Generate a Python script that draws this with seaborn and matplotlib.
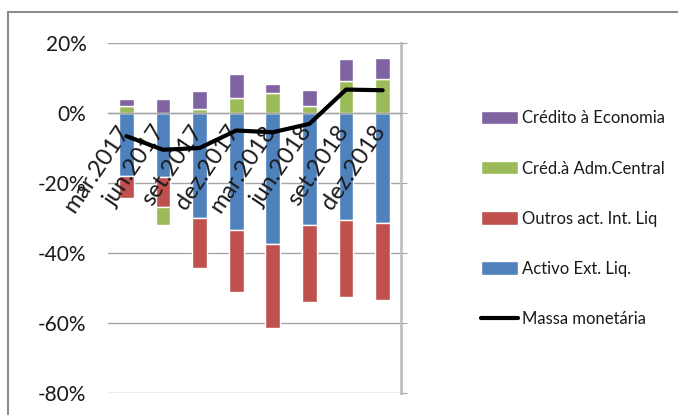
import numpy as np
import seaborn as sns
import matplotlib.pyplot as plt
import matplotlib.transforms as mtransforms
from matplotlib.lines import Line2D

# ----------------------------
# Data (percent)
# ----------------------------
periods = ["mar.2017", "jun.2017", "set.2017", "dez.2017",
           "mar.2018", "jun.2018", "set.2018", "dez.2018"]
activo_ext = [-18.0, -18.2, -30.0, -33.5, -37.3, -32.0, -30.7, -31.5]
outros_act = [-6.4, -8.7, -14.3, -17.7, -24.0, -21.9, -22.0, -22.0]
cred_adm = [2.0, -5.0, 1.0, 4.4, 5.6, 2.1, 9.0, 9.8]
cred_econ = [2.0, 4.0, 5.3, 6.7, 2.7, 4.6, 6.3, 5.8]
massa = [-6.6, -10.5, -10.0, -5.0, -5.5, -3.1, 6.7, 6.5]

series = [
    ("Activo Ext. Liq.", activo_ext, "#4F81BD"),
    ("Outros act. Int. Liq", outros_act, "#C0504D"),
    ("Créd.à Adm.Central", cred_adm, "#9BBB59"),
    ("Crédito à Economia", cred_econ, "#8064A2"),
]

sns.set_style("white")
plt.rcParams["font.family"] = ["Lato", "DejaVu Sans"]
plt.rcParams["text.color"] = "#1a1a1a"

fig = plt.figure(figsize=(6.78, 4.15), dpi=100)
ax = fig.add_axes([108 / 678, 1 - 393 / 415, 293 / 678, 350 / 415])

# gridlines behind the bars, tick labels stay on top
yt = np.arange(-0.8, 0.21, 0.2)
for t in yt:
    ax.axhline(t, color="#a6a6a6", linewidth=1, zorder=0)

# stacked bars, positives and negatives stacked separately
pos_base = np.zeros(len(periods))
neg_base = np.zeros(len(periods))
for name, vals, col in series:
    v = np.array(vals) / 100
    bottom = np.where(v >= 0, pos_base, neg_base)
    sns.barplot(x=periods, y=v, bottom=bottom, color=col, width=0.4,
                label=name, ax=ax, saturation=1, zorder=1)
    pos_base = pos_base + np.where(v >= 0, v, 0)
    neg_base = neg_base + np.where(v < 0, v, 0)

sns.lineplot(x=np.arange(len(periods)), y=np.array(massa) / 100,
             color="black", linewidth=3, label="Massa monetária", ax=ax,
             zorder=3)

# ----------------------------
# Axes styling
# ----------------------------
ax.set_ylim(-0.8, 0.2)
ax.set_xlim(-0.5, 7.5)
ax.set_yticks(yt)
ax.set_yticklabels([f"{int(round(t * 100))}%" for t in yt], fontsize=15)
ax.grid(False)
ax.set_axisbelow(False)
ax.tick_params(axis="y", left=False, right=True, direction="out", length=4.5,
               color="#a6a6a6", pad=11, labelcolor="#1a1a1a")

for s in ["top", "left"]:
    ax.spines[s].set_visible(False)
ax.spines["right"].set_color("#c0c0c0")
ax.spines["right"].set_linewidth(2)
ax.spines["bottom"].set_position(("data", 0))
ax.spines["bottom"].set_color("#a6a6a6")
ax.spines["bottom"].set_linewidth(1)

ax.set_xticks(range(len(periods)))
ax.set_xticklabels(periods, rotation=56, ha="right", va="top",
                   fontsize=17)
ax.tick_params(axis="x", which="major", length=0, pad=6, labelcolor="#1a1a1a")
shift = mtransforms.ScaledTranslation(7 / 100, 0, fig.dpi_scale_trans)
for lab in ax.get_xticklabels():
    lab.set_transform(lab.get_transform() + shift)
ax.set_xticks(np.arange(-0.5, 7.6, 1), minor=True)
ax.tick_params(axis="x", which="minor", direction="in", length=7,
               color="#a6a6a6", width=1)
ax.set_xlabel("")
ax.set_ylabel("")

# legend in custom order
handles, labels = ax.get_legend_handles_labels()
lookup = dict(zip(labels, handles))
order = ["Crédito à Economia", "Créd.à Adm.Central", "Outros act. Int. Liq",
         "Activo Ext. Liq.", "Massa monetária"]
if ax.legend_:
    ax.legend_.remove()
fig.legend([lookup[o] for o in order], order, loc="upper left",
           bbox_to_anchor=(473 / 678, 1 - 102 / 415), frameon=False,
           fontsize=12, handlelength=2.2, handleheight=0.85,
           handletextpad=0.25, labelspacing=2.05, borderpad=0)

# outer chart frame (top and left edges)
fig.add_artist(Line2D([8 / 678, 1], [1 - 12 / 415, 1 - 12 / 415],
                      color="#8c8c8c", linewidth=1.5))
fig.add_artist(Line2D([8 / 678, 8 / 678], [0, 1 - 12 / 415],
                      color="#8c8c8c", linewidth=1.5))

fig.savefig("out.png", dpi=100)
